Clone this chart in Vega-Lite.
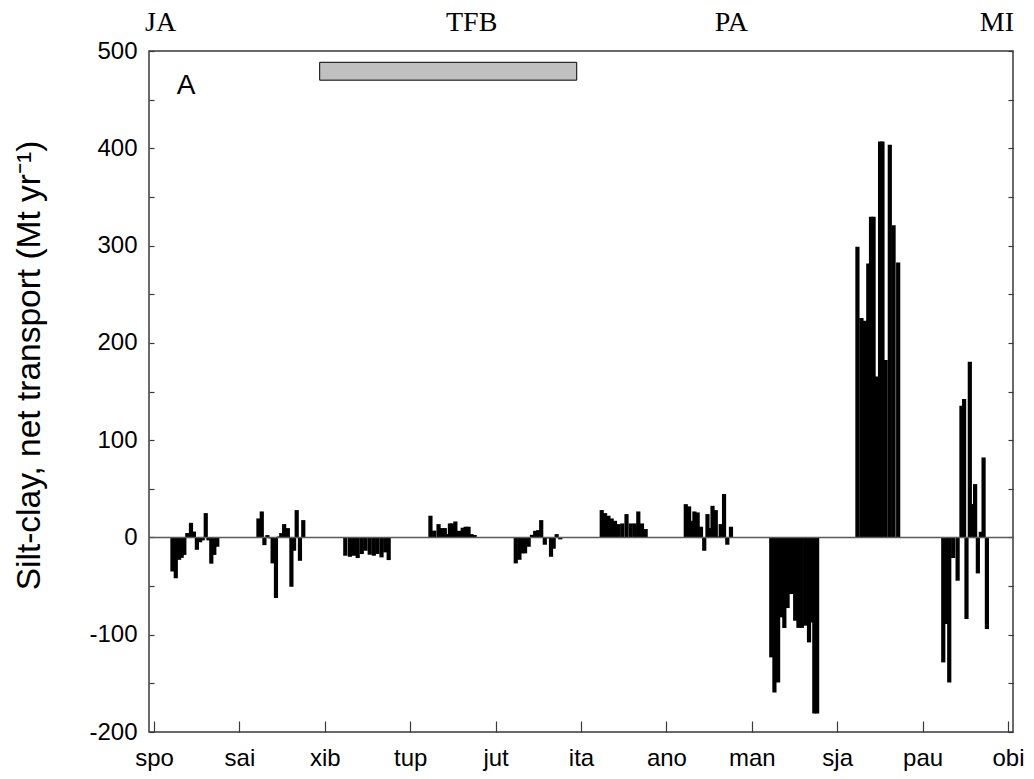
{
  "$schema": "https://vega.github.io/schema/vega-lite/v6.json",
  "width": 864,
  "height": 681,
  "autosize": "none",
  "padding": {"left": 149, "top": 51, "right": 21, "bottom": 47},
  "background": "white",
  "config": {
    "view": {"stroke": "#3a3a3a", "strokeWidth": 1.5},
    "axis": {"grid": false, "domain": false, "tickColor": "#3a3a3a", "tickWidth": 1.2, "labelColor": "black", "titleColor": "black"}
  },
  "datasets": {
    "bars": [
      {"t": 0.216, "v": -35}, {"t": 0.255, "v": -42}, {"t": 0.294, "v": -23}, {"t": 0.324, "v": -21}, {"t": 0.355, "v": -18},
      {"t": 0.390, "v": 4.5}, {"t": 0.433, "v": 15}, {"t": 0.467, "v": 6}, {"t": 0.502, "v": -12.7}, {"t": 0.540, "v": -5},
      {"t": 0.571, "v": -3}, {"t": 0.606, "v": 25}, {"t": 0.637, "v": -3}, {"t": 0.671, "v": -27}, {"t": 0.706, "v": -18}, {"t": 0.741, "v": -9.6},

      {"t": 1.223, "v": 19.5}, {"t": 1.262, "v": 26.7}, {"t": 1.293, "v": -7.9}, {"t": 1.328, "v": 2.4}, {"t": 1.362, "v": -1},
      {"t": 1.389, "v": -26.7}, {"t": 1.428, "v": -62.3}, {"t": 1.463, "v": 1}, {"t": 1.490, "v": 4.5}, {"t": 1.524, "v": 13.7},
      {"t": 1.567, "v": 9.6}, {"t": 1.609, "v": -50.7}, {"t": 1.640, "v": -13.7}, {"t": 1.671, "v": 28.1}, {"t": 1.709, "v": -24}, {"t": 1.748, "v": 17.8},

      {"t": 2.240, "v": -18.8}, {"t": 2.294, "v": -19.9}, {"t": 2.342, "v": -18.8}, {"t": 2.385, "v": -21.2}, {"t": 2.433, "v": -17.1},
      {"t": 2.477, "v": -13.7}, {"t": 2.526, "v": -17.8}, {"t": 2.574, "v": -18.8}, {"t": 2.616, "v": -17.1}, {"t": 2.664, "v": -20.5},
      {"t": 2.708, "v": -15.4}, {"t": 2.748, "v": -23.3},

      {"t": 3.237, "v": 22.3}, {"t": 3.281, "v": 7}, {"t": 3.332, "v": 13.7}, {"t": 3.372, "v": 9.6}, {"t": 3.405, "v": 9.6},
      {"t": 3.436, "v": 3.4}, {"t": 3.465, "v": 14.4}, {"t": 3.494, "v": 14.4}, {"t": 3.529, "v": 16.4}, {"t": 3.573, "v": 6.8},
      {"t": 3.615, "v": 10}, {"t": 3.650, "v": 11}, {"t": 3.683, "v": 11}, {"t": 3.718, "v": 3.4}, {"t": 3.754, "v": 2.5},

      {"t": 4.236, "v": -26.7}, {"t": 4.279, "v": -23}, {"t": 4.310, "v": -16.4}, {"t": 4.345, "v": -16.4}, {"t": 4.387, "v": -9.6},
      {"t": 4.426, "v": 2.7}, {"t": 4.464, "v": 6.8}, {"t": 4.499, "v": 7.5}, {"t": 4.534, "v": 17.8}, {"t": 4.576, "v": -7.5},
      {"t": 4.615, "v": -1}, {"t": 4.649, "v": -19.9}, {"t": 4.680, "v": -11.6}, {"t": 4.715, "v": 3.4}, {"t": 4.757, "v": -2},

      {"t": 5.243, "v": 28.1}, {"t": 5.282, "v": 25}, {"t": 5.321, "v": 22.3}, {"t": 5.359, "v": 19.5}, {"t": 5.398, "v": 17.1},
      {"t": 5.436, "v": 13.7}, {"t": 5.483, "v": 14.4}, {"t": 5.533, "v": 24}, {"t": 5.583, "v": 14.4}, {"t": 5.630, "v": 14.4},
      {"t": 5.671, "v": 26.7}, {"t": 5.714, "v": 14.4}, {"t": 5.757, "v": 8.6},

      {"t": 6.227, "v": 34.2}, {"t": 6.266, "v": 31.9}, {"t": 6.296, "v": 17.1}, {"t": 6.328, "v": 26.7}, {"t": 6.366, "v": 25.7},
      {"t": 6.405, "v": 11}, {"t": 6.443, "v": -13.7}, {"t": 6.481, "v": 24}, {"t": 6.510, "v": 9.6}, {"t": 6.540, "v": 32.5},
      {"t": 6.578, "v": 28.1}, {"t": 6.607, "v": 1}, {"t": 6.636, "v": 13.7}, {"t": 6.675, "v": 44.6}, {"t": 6.713, "v": -7.5}, {"t": 6.756, "v": 11},

      {"t": 7.228, "v": -123.3}, {"t": 7.265, "v": -159.3}, {"t": 7.308, "v": -149}, {"t": 7.343, "v": -82.2}, {"t": 7.381, "v": -93.1},
      {"t": 7.419, "v": -72.6}, {"t": 7.447, "v": -58.2}, {"t": 7.471, "v": -58.2}, {"t": 7.508, "v": -85.6}, {"t": 7.546, "v": -93},
      {"t": 7.586, "v": -93}, {"t": 7.628, "v": -90.7}, {"t": 7.670, "v": -107.9}, {"t": 7.705, "v": -87.4}, {"t": 7.732, "v": -181}, {"t": 7.765, "v": -181},

      {"t": 8.237, "v": 298.8}, {"t": 8.284, "v": 225.5}, {"t": 8.326, "v": 222.7}, {"t": 8.364, "v": 281.6}, {"t": 8.396, "v": 329.6},
      {"t": 8.426, "v": 329.6}, {"t": 8.465, "v": 165.5}, {"t": 8.502, "v": 407}, {"t": 8.530, "v": 407}, {"t": 8.567, "v": 182.3},
      {"t": 8.616, "v": 403.6}, {"t": 8.660, "v": 321}, {"t": 8.714, "v": 282.6},

      {"t": 9.242, "v": -128.5}, {"t": 9.279, "v": -89}, {"t": 9.312, "v": -149}, {"t": 9.358, "v": -21.2}, {"t": 9.410, "v": -44.5},
      {"t": 9.455, "v": 135.4}, {"t": 9.486, "v": 142.2}, {"t": 9.514, "v": -83.9}, {"t": 9.553, "v": 180.6}, {"t": 9.588, "v": 34.3},
      {"t": 9.615, "v": 54.8}, {"t": 9.647, "v": -37}, {"t": 9.682, "v": 5.8}, {"t": 9.714, "v": 82.2}, {"t": 9.753, "v": -94.2}
    ],
    "box": [{"x0": 1.94, "x1": 4.95, "y0": 470, "y1": 488.4}],
    "regions": [
      {"name": "JA", "x": 0.078, "y": 529},
      {"name": "TFB", "x": 3.72, "y": 529},
      {"name": "PA", "x": 6.76, "y": 529},
      {"name": "MI", "x": 9.87, "y": 529}
    ],
    "panel": [{"name": "A", "x": 0.375, "y": 464}],
    "zero": [{"v": 0}]
  },
  "layer": [
    {
      "data": {"name": "box"},
      "mark": {"type": "rect", "fill": "#c0c0c0", "stroke": "black", "strokeWidth": 1},
      "encoding": {
        "x": {"field": "x0", "type": "quantitative", "scale": {"domain": [0, 10], "nice": false, "zero": false}, "axis": null},
        "x2": {"field": "x1"},
        "y": {"field": "y0", "type": "quantitative", "scale": {"domain": [-200, 500], "nice": false}, "axis": null},
        "y2": {"field": "y1"}
      }
    },
    {
      "data": {"name": "bars"},
      "mark": {"type": "bar", "orient": "vertical", "width": 4.2, "color": "black"},
      "encoding": {
        "x": {
          "field": "t", "type": "quantitative",
          "scale": {"domain": [0, 10], "nice": false, "zero": false},
          "axis": {
            "orient": "bottom", "values": [0, 1, 2, 3, 4, 5, 6, 7, 8, 9, 10],
            "labelExpr": "['spo','sai','xib','tup','jut','ita','ano','man','sja','pau','obi'][datum.value]",
            "tickSize": -11, "labelPadding": 25, "labelFlush": true, "labelFlushOffset": 12,
            "labelFont": "Liberation Sans", "labelFontSize": 24, "title": null
          }
        },
        "y": {
          "field": "v", "type": "quantitative",
          "scale": {"domain": [-200, 500], "nice": false},
          "axis": {
            "orient": "left",
            "values": [-200, -150, -100, -50, 0, 50, 100, 150, 200, 250, 300, 350, 400, 450, 500],
            "labelExpr": "datum.value % 100 === 0 ? '' + datum.value : ''",
            "tickSize": -5, "labelPadding": 17,
            "labelFont": "Liberation Sans", "labelFontSize": 24,
            "title": "Silt-clay, net transport (Mt yr⁻¹)",
            "titleFont": "Liberation Sans", "titleFontSize": 33.5, "titleFontWeight": "normal",
            "titleX": -120, "titleY": 314, "titleAngle": -90, "titleAlign": "center", "titleBaseline": "middle"
          }
        }
      }
    },
    {
      "data": {"name": "zero"},
      "mark": {"type": "rule", "color": "#5a5a5a", "strokeWidth": 1.5},
      "encoding": {
        "y": {
          "field": "v", "type": "quantitative",
          "scale": {"domain": [-200, 500], "nice": false},
          "axis": {
            "orient": "right",
            "values": [-200, -150, -100, -50, 0, 50, 100, 150, 200, 250, 300, 350, 400, 450, 500],
            "labels": false, "tickSize": -5, "title": null
          }
        }
      }
    },
    {
      "data": {"name": "regions"},
      "mark": {"type": "text", "font": "Liberation Serif", "fontSize": 28, "color": "black", "baseline": "middle", "align": "center"},
      "encoding": {
        "x": {"field": "x", "type": "quantitative", "scale": {"domain": [0, 10], "nice": false, "zero": false}, "axis": null},
        "y": {"field": "y", "type": "quantitative", "scale": {"domain": [-200, 500], "nice": false}, "axis": null},
        "text": {"field": "name"}
      }
    },
    {
      "data": {"name": "panel"},
      "mark": {"type": "text", "font": "Liberation Sans", "fontSize": 28, "color": "black", "baseline": "middle", "align": "center"},
      "encoding": {
        "x": {"field": "x", "type": "quantitative", "scale": {"domain": [0, 10], "nice": false, "zero": false}, "axis": null},
        "y": {"field": "y", "type": "quantitative", "scale": {"domain": [-200, 500], "nice": false}, "axis": null},
        "text": {"field": "name"}
      }
    }
  ],
  "resolve": {"axis": {"x": "independent", "y": "independent"}}
}
